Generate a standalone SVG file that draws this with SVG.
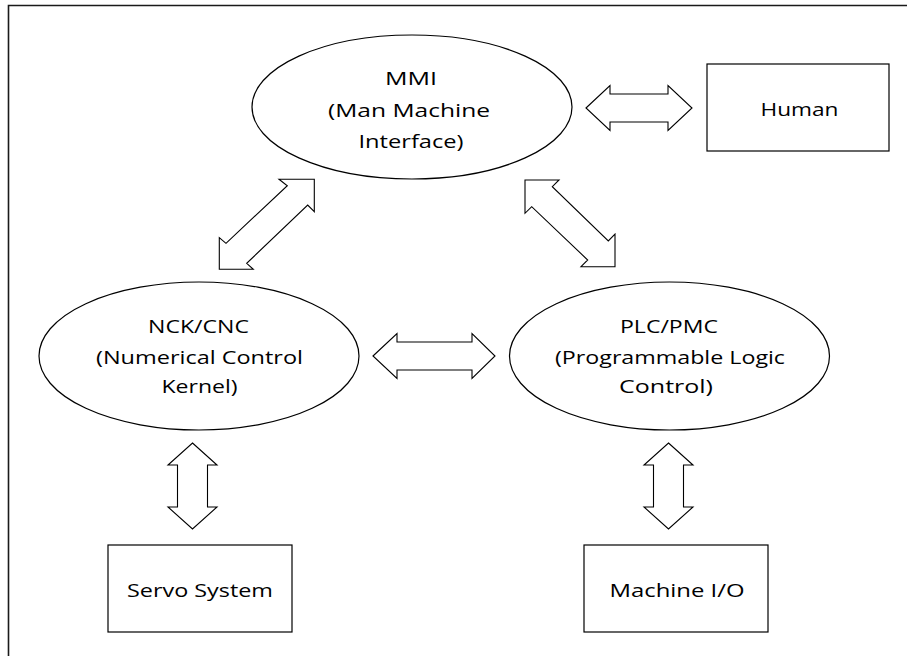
<svg xmlns="http://www.w3.org/2000/svg" width="907" height="656" viewBox="0 0 907 656">
  <style>
    .shape { fill: #ffffff; stroke: #000000; stroke-width: 1.2; }
    .arrow { fill: #ffffff; stroke: #000000; stroke-width: 1.1; stroke-linejoin: miter; }
    .label { font-family: "Open Sans", "Liberation Sans", sans-serif; font-size: 18.5px; fill: #000000; }
    .frame { fill: none; stroke: #1a1a1a; stroke-width: 1.6; }
  </style>
  <rect width="907" height="656" fill="#ffffff"/>

  <!-- outer frame (only top and left edges fall inside the canvas) -->
  <path class="frame" d="M8.5,656 V5.5 H907"/>

  <g id="connectors">
    <!-- MMI <-> Human -->
    <polygon class="arrow" points="586,108 610,85.5 610,94 668,94 668,85.5 692,108 668,130.5 668,122 610,122 610,130.5"/>
    <!-- MMI <-> NCK/CNC -->
    <polygon class="arrow" points="314.3,179.3 279,179.3 287.3,185.7 226,243.3 219.3,237.7 219.3,269.3 253.3,269.3 246.7,263.3 307.7,205 314.3,211.7"/>
    <!-- MMI <-> PLC/PMC -->
    <polygon class="arrow" points="525,180 559,180 552.3,186.7 608.3,241 615,234 615,266.7 581,266.7 587.7,260 531.7,206.7 525,213.3"/>
    <!-- NCK/CNC <-> PLC/PMC -->
    <polygon class="arrow" points="373,356 397,333.5 397,342 472,342 472,333.5 495,356 472,378.5 472,370 397,370 397,378.5"/>
    <!-- NCK/CNC <-> Servo System -->
    <polygon class="arrow" points="192.5,443 217,465 207.5,465 207.5,507 217,507 192.5,529 168,507 177.5,507 177.5,465 168,465"/>
    <!-- PLC/PMC <-> Machine I/O -->
    <polygon class="arrow" points="668.5,443 693,465 683.5,465 683.5,507 693,507 668.5,529 644,507 653.5,507 653.5,465 644,465"/>
  </g>

  <g id="mmi">
    <ellipse class="shape" cx="412" cy="107" rx="160" ry="72"/>
    <text class="label" x="385" y="85" textLength="52" lengthAdjust="spacingAndGlyphs">MMI</text>
    <text class="label" x="328" y="117" textLength="162" lengthAdjust="spacingAndGlyphs">(Man Machine</text>
    <text class="label" x="358.5" y="148" textLength="105" lengthAdjust="spacingAndGlyphs">Interface)</text>
  </g>

  <g id="human">
    <rect class="shape" x="707" y="64" width="182" height="87"/>
    <text class="label" x="760.5" y="116" textLength="78" lengthAdjust="spacingAndGlyphs">Human</text>
  </g>

  <g id="nck">
    <ellipse class="shape" cx="199" cy="356" rx="160" ry="74"/>
    <text class="label" x="148" y="333" textLength="101" lengthAdjust="spacingAndGlyphs">NCK/CNC</text>
    <text class="label" x="96" y="364" textLength="207" lengthAdjust="spacingAndGlyphs">(Numerical Control</text>
    <text class="label" x="161.5" y="393" textLength="76" lengthAdjust="spacingAndGlyphs">Kernel)</text>
  </g>

  <g id="plc">
    <ellipse class="shape" cx="669.5" cy="356" rx="160" ry="74"/>
    <text class="label" x="620" y="333" textLength="98" lengthAdjust="spacingAndGlyphs">PLC/PMC</text>
    <text class="label" x="555" y="364" textLength="230" lengthAdjust="spacingAndGlyphs">(Programmable Logic</text>
    <text class="label" x="619" y="393" textLength="94" lengthAdjust="spacingAndGlyphs">Control)</text>
  </g>

  <g id="servo">
    <rect class="shape" x="108" y="545" width="184" height="87"/>
    <text class="label" x="127" y="597" textLength="146" lengthAdjust="spacingAndGlyphs">Servo System</text>
  </g>

  <g id="machine-io">
    <rect class="shape" x="584" y="545" width="184" height="87"/>
    <text class="label" x="609.5" y="597" textLength="135" lengthAdjust="spacingAndGlyphs">Machine I/O</text>
  </g>
</svg>
